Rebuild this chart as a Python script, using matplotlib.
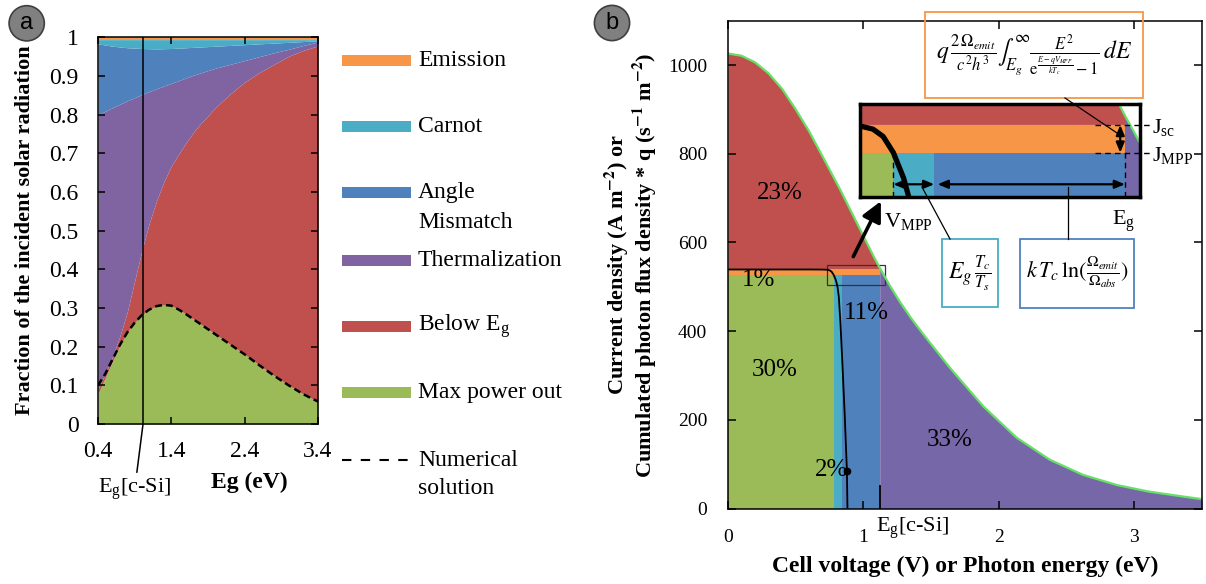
import numpy as np
import matplotlib
matplotlib.use("Agg")
import matplotlib.pyplot as plt
from matplotlib.patches import Rectangle

W, H = 1206, 584
plt.rcParams["font.family"] = ["Liberation Serif", "DejaVu Serif"]
plt.rcParams["mathtext.fontset"] = "stix"

# ---------------- (a) share of the incident solar radiation vs band gap ----------------
# upper edge of each stacked band (cumulative fraction)
band_gap = [0.4, 0.5, 0.6, 0.7, 0.8, 0.9, 1.0, 1.1, 1.2, 1.3, 1.4, 1.5, 1.6, 1.7, 1.8,
            1.9, 2.0, 2.2, 2.4, 2.6, 2.8, 3.0, 3.2, 3.4]
max_power_top = [0.078, 0.12, 0.163, 0.203, 0.237, 0.262, 0.282, 0.296, 0.305, 0.308,
                 0.306, 0.296, 0.284, 0.271, 0.258, 0.245, 0.232, 0.206, 0.18, 0.152,
                 0.125, 0.1, 0.077, 0.058]
below_eg_top = [0.09, 0.13, 0.175, 0.228, 0.29, 0.37, 0.45, 0.52, 0.578, 0.627,
                0.667, 0.698, 0.727, 0.754, 0.777, 0.797, 0.818, 0.853, 0.884, 0.909,
                0.93, 0.951, 0.966, 0.978]
thermalization_top = [0.80, 0.809, 0.818, 0.827, 0.836, 0.844, 0.852, 0.86, 0.867, 0.874,
                      0.881, 0.888, 0.895, 0.902, 0.908, 0.914, 0.92, 0.93, 0.94, 0.95,
                      0.96, 0.969, 0.979, 0.988]
angle_mismatch_top = [0.983, 0.98, 0.977, 0.975, 0.973, 0.972, 0.971, 0.9705, 0.970, 0.9705,
                      0.971, 0.972, 0.973, 0.974, 0.975, 0.976, 0.977, 0.979, 0.981, 0.983,
                      0.985, 0.987, 0.989, 0.991]
carnot_top = [0.994] * 24
emission_top = [1.0] * 24
numerical_solution = [0.10, 0.13, 0.168, 0.205, 0.237, 0.262, 0.282, 0.296, 0.305, 0.308,
                      0.306, 0.296, 0.284, 0.271, 0.258, 0.245, 0.232, 0.206, 0.18, 0.152,
                      0.125, 0.1, 0.077, 0.058]
csi_marker_a = 1.014
a_xticks = [0.4, 1.4, 2.4, 3.4]
a_yticks = [0, 0.1, 0.2, 0.3, 0.4, 0.5, 0.6, 0.7, 0.8, 0.9, 1.0]
a_yticklabels = ["0", "0.1", "0.2", "0.3", "0.4", "0.5", "0.6", "0.7", "0.8", "0.9", "1"]

# ---------------- (b) cumulated photon flux and I-V curve of c-Si ----------------
photon_energy = [0, 0.1, 0.2, 0.3, 0.4, 0.5, 0.6, 0.705, 0.83, 0.953, 1.076, 1.12, 1.2,
                 1.265, 1.35, 1.444, 1.642, 1.886, 2.13, 2.376, 2.62, 2.87, 3.11, 3.36, 3.5]
cumulated_flux = [1026, 1021, 1006, 981, 946, 900, 850, 790, 718, 643, 568, 543, 500,
                  468, 430, 392, 316, 230, 160, 110, 76, 53, 38, 27, 21]
iv_voltage = [0, 0.6, 0.7, 0.733, 0.75, 0.765, 0.78, 0.795, 0.807, 0.818, 0.83,
              0.845, 0.862, 0.878, 0.882]
iv_current = [539, 539, 538.8, 538.4, 537.2, 534, 527, 516, 503, 478, 420,
              325, 210, 85, 0]
eg_si = 1.12
j_sc = 539
j_mpp = 527
carnot_drop = 0.06
angle_drop = 0.28
v_mpp = eg_si - carnot_drop - angle_drop
b_xticks = [0, 1, 2, 3]
b_yticks = [0, 200, 400, 600, 800, 1000]

C_GREEN = "#9BBB59"
C_RED = "#C0504D"
C_PURPLE_A = "#8064A2"
C_PURPLE_B = "#7668A8"
C_BLUE = "#4F81BD"
C_CYAN = "#4BACC6"
C_ORANGE = "#F79646"
C_LIME = "#66E066"

fig = plt.figure(figsize=(W / 100, H / 100), dpi=100)


def fig_box(x0, y0, x1, y1):
    """Axes rectangle from pixel corners (top-left origin)."""
    return [x0 / W, 1 - y1 / H, (x1 - x0) / W, (y1 - y0) / H]


# ---- panel a ----
ax_a = fig.add_axes(fig_box(98, 37.3, 318, 424))
edges = [np.zeros(len(band_gap)), max_power_top, below_eg_top, thermalization_top,
         angle_mismatch_top, carnot_top, emission_top]
band_colors = [C_GREEN, C_RED, C_PURPLE_A, C_BLUE, C_CYAN, C_ORANGE]
for lower, upper, col in zip(edges[:-1], edges[1:], band_colors):
    ax_a.fill_between(band_gap, lower, upper, color=col, linewidth=0)
ax_a.plot(band_gap, numerical_solution, color="k", lw=1.8, ls=(0, (2.8, 1.6)))
ax_a.plot([csi_marker_a, csi_marker_a], [0, 1], color="k", lw=1.1)
ax_a.set_xlim(0.4, 3.4)
ax_a.set_ylim(0, 1)
ax_a.set_xticks(a_xticks)
ax_a.set_xticklabels([f"{v:.1f}" for v in a_xticks])
ax_a.set_yticks(a_yticks)
ax_a.set_yticklabels(a_yticklabels)
ax_a.tick_params(direction="in", top=True, right=True, length=5, width=1.1,
                 labelsize=17)
ax_a.tick_params(axis="x", pad=12)
ax_a.tick_params(axis="y", pad=14)
for s in ax_a.spines.values():
    s.set_linewidth(1.1)
ax_a.annotate(r"$\mathregular{E_g}$[c-Si]", xy=(csi_marker_a, 0), xytext=(-6, -47),
              textcoords="offset points", ha="center", va="center", fontsize=16,
              annotation_clip=False,
              arrowprops=dict(arrowstyle="-", lw=1.1, color="k", shrinkA=1, shrinkB=0))

# ---- panel b ----
ax_b = fig.add_axes(fig_box(728, 20.7, 1202, 508.5))


def draw_budget(ax, iv_lw):
    e = np.array(photon_energy)
    f = np.array(cumulated_flux)
    lo = e <= eg_si
    hi = e >= eg_si
    kw = dict(linewidth=0)
    ax.fill_between(e[lo], j_sc, f[lo], color=C_RED, **kw)
    ax.fill_between(e[hi], 0, f[hi], color=C_PURPLE_B, **kw)
    ax.fill_between([0, eg_si], j_mpp, j_sc, color=C_ORANGE, **kw)
    ax.fill_between([0, v_mpp], 0, j_mpp, color=C_GREEN, **kw)
    ax.fill_between([v_mpp, v_mpp + carnot_drop], 0, j_mpp, color=C_CYAN, **kw)
    ax.fill_between([v_mpp + carnot_drop, eg_si], 0, j_mpp, color=C_BLUE, **kw)
    ax.plot(e, f, color=C_LIME, lw=1.6)
    ax.plot(iv_voltage, iv_current, color="k", lw=iv_lw, solid_capstyle="butt")


draw_budget(ax_b, 1.3)
ax_b.plot([iv_voltage[-2]], [iv_current[-2]], "o", color="k", ms=4.5)
ax_b.plot([eg_si, eg_si], [0, 50], color="k", lw=1.3)
ax_b.add_patch(Rectangle((0.733, 504), 0.427, 45, fill=False, ec="#333333", lw=0.9))
ax_b.annotate("", xy=(1.129, 693), xytext=(0.925, 568),
              arrowprops=dict(arrowstyle="-|>,head_width=0.3,head_length=0.6", lw=2.6,
                              color="k", mutation_scale=20, shrinkA=0, shrinkB=0))
for txt, (x, y) in zip(["23%", "1%", "11%", "30%", "2%", "33%"],
                       [(0.384, 711), (0.224, 515), (1.024, 440), (0.347, 312),
                        (0.767, 87), (1.64, 154)]):
    ax_b.text(x, y, txt, ha="center", va="center", fontsize=18)
ax_b.set_xlim(0, 3.5)
ax_b.set_ylim(0, 1100)
ax_b.set_xticks(b_xticks)
ax_b.set_yticks(b_yticks)
ax_b.tick_params(direction="in", top=True, right=True, length=6, width=1.1,
                 labelsize=14, pad=15)
for s in ax_b.spines.values():
    s.set_linewidth(1.1)

# ---- magnified view around the maximum power point ----
ax_in = fig.add_axes(fig_box(860, 104.4, 1140.4, 197.2), zorder=5)
draw_budget(ax_in, 3.8)
ax_in.set_xlim(0.731, 1.1426)
ax_in.set_ylim(507.7, 547.9)
ax_in.set_xticks([])
ax_in.set_yticks([])
for s in ax_in.spines.values():
    s.set_linewidth(2.5)
y_arr = 513.3
arr_kw = dict(arrowstyle="<|-|>,head_width=0.25,head_length=0.6", lw=1.6, color="k",
              mutation_scale=10, shrinkA=0, shrinkB=0)
ax_in.annotate("", xy=(v_mpp, y_arr), xytext=(v_mpp + carnot_drop, y_arr), arrowprops=arr_kw)
ax_in.annotate("", xy=(v_mpp + carnot_drop + 0.005, y_arr), xytext=(eg_si, y_arr),
               arrowprops=arr_kw)
ax_in.annotate("", xy=(1.113, j_mpp), xytext=(1.113, j_sc), arrowprops=arr_kw)
for jv in (j_sc, j_mpp):
    ax_in.plot([1.076, 1.157], [jv, jv], color="k", lw=1.0, ls=(0, (4, 3)), clip_on=False)
ax_in.plot([eg_si, eg_si], [507.7, j_mpp], color="k", lw=1.0, ls=(0, (4, 3)))
ax_in.plot([v_mpp, v_mpp], [507.7, j_mpp], color="k", lw=1.0, ls=(0, (4, 3)))

# ---- overlay in pixel coordinates for legend, labels and formula boxes ----
ov = fig.add_axes([0, 0, 1, 1], zorder=10)
ov.set_xlim(0, W)
ov.set_ylim(H, 0)
ov.axis("off")

legend_items = [("Emission", C_ORANGE, 60), ("Carnot", C_CYAN, 126.7),
                ("Angle", C_BLUE, 192.7), ("Thermalization", C_PURPLE_A, 260),
                ("Below $\\mathregular{E_g}$", C_RED, 326), ("Max power out", C_GREEN, 392.7)]
for label, col, y in legend_items:
    ov.add_patch(Rectangle((341.7, y - 5.5), 69.3, 11, color=col, lw=0))
    ov.text(418, y, label, ha="left", va="center", fontsize=17)
ov.text(418, 222, "Mismatch", ha="left", va="center", fontsize=17)
ov.plot([341.7, 411], [460, 460], color="k", lw=1.5, ls=(0, (4.5, 4.5)))
ov.text(418, 460, "Numerical", ha="left", va="center", fontsize=17)
ov.text(418, 489, "solution", ha="left", va="center", fontsize=17)

# axis titles
ov.text(25, 230, "Fraction of the incident solar radiation", rotation=90, ha="center",
        va="center", fontsize=16, fontweight="bold")
ov.text(249, 482, "Eg (eV)", ha="center", va="center", fontsize=17, fontweight="bold")
ov.text(617, 265, r"Current density (A m$^{\mathbf{-2}}$) or", rotation=90, ha="center",
        va="center", fontsize=16, fontweight="bold")
ov.text(645, 265, r"Cumulated photon flux density * q (s$^{\mathbf{-1}}$ m$^{\mathbf{-2}}$)",
        rotation=90, ha="center", va="center", fontsize=16, fontweight="bold")
ov.text(965, 566, "Cell voltage (V) or Photon energy (eV)", ha="center", va="center",
        fontsize=17, fontweight="bold")
ov.text(876, 528, r"$\mathregular{E_g}$[c-Si]", ha="left", va="center", fontsize=16)

# panel letters
for letter, (x, y) in (("a", (26.7, 23.3)), ("b", (612, 23))):
    ov.text(x, y, letter, ha="center", va="center", fontsize=17, family="Liberation Sans",
            bbox=dict(boxstyle="circle,pad=0.28", fc="#808080", ec="#3f3f3f", lw=1.2))

# labels around the magnified view
ov.text(1152, 128, r"$\mathregular{J_{sc}}$", ha="left", va="center", fontsize=16)
ov.text(1152, 155, r"$\mathregular{J_{MPP}}$", ha="left", va="center", fontsize=16)
ov.text(884, 221, r"$\mathregular{V_{MPP}}$", ha="left", va="center", fontsize=16)
ov.text(1112, 221, r"$\mathregular{E_g}$", ha="left", va="center", fontsize=16)

# formula boxes
ov.add_patch(Rectangle((925, 12.3), 218.3, 86, fill=False, ec=C_ORANGE, lw=1.3))
ov.add_patch(Rectangle((942.3, 239), 55.4, 67.7, fill=False, ec=C_CYAN, lw=1.3))
ov.add_patch(Rectangle((1020, 239), 114.3, 69.3, fill=False, ec=C_BLUE, lw=1.3))
ov.text(1034, 55,
        r"$q\,\frac{2\,\Omega_{emit}}{c^{2}h^{3}}\int_{E_g}^{\infty}"
        r"\frac{E^{2}}{\mathrm{e}^{\frac{E-qV_{MPP}}{kT_c}}-1}\,dE$",
        ha="center", va="center", fontsize=17)
ov.text(970, 273, r"$E_g\,\frac{T_c}{T_s}$", ha="center", va="center", fontsize=17)
ov.text(1077, 273, r"$k\,T_c\,\ln(\frac{\Omega_{emit}}{\Omega_{abs}})$", ha="center",
        va="center", fontsize=16)
ov.plot([1065, 1120], [98, 135], color="k", lw=0.9)
ov.plot([950, 922], [239, 187], color="k", lw=0.9)
ov.plot([1068, 1068], [239, 187], color="k", lw=0.9)

fig.savefig("out.png", dpi=100)
